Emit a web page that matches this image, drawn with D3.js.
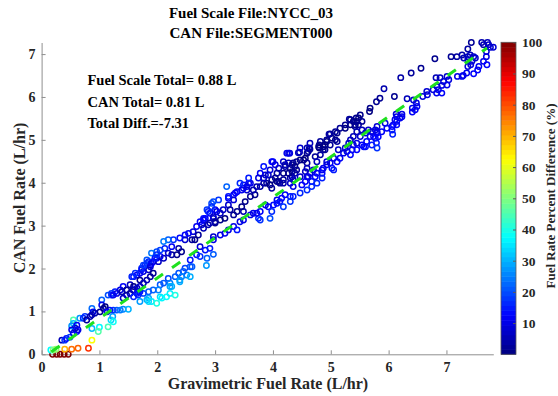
<!DOCTYPE html>
<html>
<head>
<meta charset="utf-8">
<script src="https://cdn.jsdelivr.net/npm/d3@7"></script>
<style>
  html, body { margin: 0; padding: 0; background: #fff; }
  svg { display: block; }
  text { font-family: "Liberation Serif", "Times New Roman", serif; font-weight: bold; }
</style>
</head>
<body>
<svg id="chart" width="558" height="396"></svg>
<script>
// Title lines
const titleLines = ["Fuel Scale File:NYCC_03", "CAN File:SEGMENT000"];
// Summary annotations
const summaryLines = ["Fuel Scale Total= 0.88 L", "CAN Total= 0.81 L", "Total Diff.=-7.31"];
const xLabel = "Gravimetric Fuel Rate (L/hr)";
const yLabel = "CAN Fuel Rate (L/hr)";
const colorLabel = "Fuel Rate Percent Difference (%)";

const xTicks = [0, 1, 2, 3, 4, 5, 6, 7];
const yTicks = [0, 1, 2, 3, 4, 5, 6, 7];
const colorTicks = [10, 20, 30, 40, 50, 60, 70, 80, 90, 100];
const xDomain = [0, 7.81];
const yDomain = [0, 7.27];
const colorDomain = [0, 100];

// Fitted trend line end points [gravimetric, CAN]
const fitLine = [[0.17, 0.06], [7.70, 7.14]];

// Paired samples: [gravimetric L/hr, CAN L/hr]
const readings = [
  [7.43,7.27],[7.61,7.27],[7.71,7.27],[7.64,7.22],[7.73,7.22],[7.81,7.16],[7.76,7.16],[7.37,7.12],[7.69,7.06],[7.69,6.94],[7.64,6.83],[7.70,6.75],
  [7.08,6.94],[7.18,6.94],[7.27,6.98],[7.30,6.91],[7.37,6.94],[7.41,6.98],[7.47,6.94],[7.50,6.91],[7.37,6.87],[7.44,6.83],[7.42,6.75],[7.37,6.71],
  [6.80,6.89],[6.56,6.67],[6.39,6.56],[6.21,6.45],[5.92,6.19],[5.85,5.97],[6.10,6.01],
  [7.54,6.63],[7.47,6.54],[7.19,6.48],[7.29,6.50],[6.82,6.45],[6.89,6.45],[7.01,6.48],[7.04,6.40],[6.95,6.36],[7.01,6.28],[6.92,6.27],[6.84,6.24],[6.77,6.17],[6.66,6.13],[6.67,6.05],[6.59,6.01],
  [6.32,5.96],[6.43,5.93],[6.48,5.86],[6.49,5.78],[6.46,5.70],[6.41,5.65],[6.41,5.74],
  [6.13,5.60],[6.23,5.60],[6.20,5.51],[6.11,5.47],[6.14,5.35],[6.08,5.35],[6.06,5.23],[5.94,5.39],[5.97,5.27],[5.88,5.19],[6.07,5.13],
  [6.86,6.17],[6.83,6.09],[6.92,6.09],[7.35,6.56],[7.56,6.71],[7.27,6.48],
  [6.23,5.54],[6.14,5.54],[6.14,5.43],[6.06,5.31],[5.80,5.19],[5.80,5.31],[5.74,5.08],[5.57,4.84],
  [5.79,5.89],[5.68,5.74],[5.67,5.66],[5.51,5.58],[5.48,5.51],[5.45,5.43],[5.54,5.43],[5.32,5.48],[5.39,5.43],[5.34,5.35],[5.42,5.35],[5.48,5.35],[5.25,5.35],[5.16,5.27],[5.25,5.27],[5.11,5.16],[4.99,5.14],[5.02,5.04],[4.93,4.96],[5.11,4.96],[4.82,4.96],[4.87,4.84],[4.79,4.84],[4.90,4.77],[4.64,4.78],[4.59,4.69],[4.44,4.70],[4.56,4.57],[4.47,4.53],[4.41,4.49],[4.35,4.46],[4.38,4.38],[4.30,4.34],[4.33,4.26],[4.38,4.22],[4.30,4.11],[4.47,4.14],
  [5.65,5.23],[5.60,5.16],[5.71,5.19],[5.77,5.23],[5.80,5.16],[5.68,5.08],[5.77,5.04],[5.62,4.96],[5.71,4.88],[5.60,4.84],[5.54,4.88],[5.45,4.92],[5.39,4.88],[5.31,4.92],[5.37,4.77],[5.45,4.77],[5.28,4.73],[5.22,4.69],[5.34,4.65],[5.16,4.57],[5.05,4.57],[5.11,4.49],[4.99,4.46],[4.93,4.42],[5.02,4.34],[4.87,4.34],[4.85,4.22],[4.70,4.30],[4.76,4.22],[4.73,4.14],[4.64,4.22],[4.59,4.14],[4.67,4.03],[4.56,4.03],[4.50,3.95],[5.82,5.07],[5.79,4.93],[5.80,4.81],
  [5.42,5.31],[5.45,5.19],[5.54,5.23],[5.51,5.08],[5.39,5.08],[5.34,5.00],[5.25,4.81],
  [4.93,5.00],[4.99,4.88],[5.08,5.00],[5.13,4.77],[4.87,4.77],[4.82,4.65],[4.73,4.61],[4.76,4.49],[4.93,4.49],[4.85,4.30],[5.05,4.30],
  [5.34,5.47],[5.44,5.51],[4.97,5.13],[5.08,5.19],[4.80,4.88],[4.90,4.88],[4.80,4.81],[4.63,4.81],[4.61,4.73],[4.46,4.71],[4.29,4.69],[4.00,4.49],[4.59,4.81],[4.64,4.92],[4.47,4.81],
  [4.27,4.69],[4.27,4.46],[4.21,4.42],[4.33,4.42],[4.53,4.53],[4.59,4.46],[4.59,4.34],[4.41,4.30],[4.18,4.22],[4.10,4.34],[4.07,4.22],[4.04,4.11],[3.98,4.07],[3.98,4.49],[3.92,4.18],[3.87,4.18],[3.78,4.22],[3.75,4.11],[3.58,3.99],[3.49,3.95],[3.55,3.83],[3.46,3.83],[3.38,3.79],[3.32,3.72],[3.23,3.64],[3.32,3.60],[3.06,3.60],[2.97,3.56],[2.86,3.37],[3.23,3.48],[3.26,3.37],[3.14,3.37],[3.09,3.29],[3.00,3.37],[2.91,3.29],[2.83,3.17],[2.80,3.13],[2.77,3.02],[2.88,3.02],[2.97,3.17],[3.00,3.06],[3.09,3.13],[3.17,3.17],[3.32,3.25],[3.38,3.33],[3.49,3.33],[3.46,3.44],[3.52,3.56],[3.61,3.68],[3.69,3.72],[3.66,3.83],[3.78,3.91],[3.84,3.99],[3.89,3.99],[3.95,3.95],[3.98,3.87],[4.07,4.03],[4.12,3.99],[4.18,4.07],
  [4.21,3.72],[4.30,3.68],[4.15,3.64],[4.07,3.60],[4.12,3.56],[4.01,3.48],[3.92,3.44],[3.98,3.33],[3.78,3.33],[3.75,3.17],[3.66,3.29],[3.61,3.25],[3.49,3.13],[3.43,3.09],[3.32,2.98],[3.38,2.90],[3.23,2.90],[3.17,2.82],[3.09,2.78],[2.97,2.74],[2.97,2.67],[4.33,4.14],[4.35,4.07],[4.56,4.26],[4.61,4.14],
  [3.84,4.11],[3.61,3.99],[3.72,3.91],[4.10,4.03],[4.18,3.99],[4.30,3.99],[4.35,3.91],
  [4.30,3.56],[3.95,3.17],[3.78,3.13],[3.72,3.29],[3.87,3.48],[4.07,3.52],[4.18,3.44],[4.35,3.68],[4.47,3.76],[4.59,3.83],[4.67,3.91],[4.76,3.99],[4.85,4.11],
  [2.80,3.17],[2.94,3.52],[3.20,3.91],[3.23,3.68],[3.35,3.76],[3.49,3.87],[3.43,3.99],[3.55,3.91],[3.58,4.11],[3.84,4.38],[3.95,4.30],[4.04,4.42],[4.18,4.49],[4.24,4.69],[4.21,4.38],[4.27,4.22],
  [2.94,3.44],[2.88,3.33],[3.03,3.33],[2.97,3.21],[3.00,3.09],[2.91,3.06],[2.74,3.09],[2.68,2.98],[2.80,2.94],[2.62,2.86],[2.71,2.78],[2.65,2.67],[2.60,2.67],[2.54,2.82],[2.48,2.78],[2.48,2.67],[2.39,2.71],[2.28,2.67],[2.19,2.67],[2.11,2.63],[2.13,2.47],[2.25,2.51],[2.37,2.47],[2.42,2.39],[2.34,2.32],[2.25,2.32],[2.19,2.36],[2.11,2.24],[2.05,2.28],[1.99,2.24],[1.93,2.16],[2.02,2.16],[1.88,2.08],[1.85,1.97],[1.76,1.93],[1.70,1.89],[1.65,1.85],[1.59,1.81],[1.73,2.01],[1.79,2.08],[1.82,2.20],[1.99,2.39],[2.05,2.43],[1.90,2.36],
  [2.74,2.51],[2.83,2.43],[2.91,2.47],[2.86,2.24],[2.68,2.32],[2.57,2.20],[2.60,2.04],[2.48,2.01],[2.37,1.89],[2.31,1.81],[2.19,1.77],[2.22,1.66],[2.11,1.66],[2.05,1.62],[2.02,1.50],[1.93,1.50],[1.85,1.46],[1.76,1.42],[1.67,1.46],[1.59,1.50],[1.53,1.42],[1.47,1.38],[1.27,1.46],[1.21,1.38],[1.41,1.31],[1.85,1.31],[2.05,1.34],[2.25,1.58],[2.39,1.73],[2.51,1.85],
  [1.70,1.73],[1.76,1.66],[1.82,1.73],[1.88,1.81],[1.93,1.89],[1.53,1.62],[1.41,1.58],[1.36,1.50],[1.47,1.50],[1.59,1.58],
  [0.19,0.00],[0.26,0.00],[0.32,0.00],[0.39,0.00],[0.46,0.00],
  [0.16,0.10],[0.20,0.10],[0.25,0.12],
  [0.40,0.12],[0.52,0.12],[0.63,0.14],[0.81,0.14],
  [0.87,0.33],
  [0.35,0.33],[0.40,0.33],[0.43,0.37],[0.49,0.40],[0.55,0.49],[0.61,0.53],[0.63,0.57],
  [0.55,0.80],[0.55,0.72],[0.58,0.61],[0.66,0.84],[0.75,0.88],[0.72,0.84],[0.78,0.80],
  [0.87,0.60],[1.00,0.63],
  [0.87,1.07],[0.89,0.99],[0.87,0.92],[0.92,0.96],[1.04,1.27],[1.04,1.15],[1.07,1.07],
  [1.20,0.80],[1.23,0.88],
  [1.18,1.03],[1.24,1.03],[1.30,1.03],[1.36,1.03],[1.41,1.05],[1.50,1.05],
  [1.15,1.38],[1.21,1.42],[1.30,1.42],[1.39,1.46],[1.56,1.81],[1.62,1.89],[1.82,2.12],
  [1.67,1.38],[1.59,1.34],[1.70,1.23],[1.82,1.27],[1.85,1.23],
  [1.15,0.64],[0.98,0.53],[1.24,0.76],
  [2.85,2.07],[2.97,2.33],[2.57,1.81],[2.39,1.69],[2.22,1.58],[2.74,2.28],[2.57,2.04],[2.45,1.93],[2.42,1.81],
  [0.52,0.66],[0.52,0.57],[0.61,0.68],[0.84,0.88],[1.01,0.99],[1.10,1.11],[1.13,0.99],[1.24,1.38],
  [1.58,1.50],[1.65,1.54],[1.65,1.42],[1.70,1.58],[1.70,1.46],
  [1.73,1.97],[1.76,2.08],[1.85,2.16],[1.88,2.04],[1.90,2.12],[1.96,2.24],[1.99,2.32],
  [1.90,1.23],[1.99,1.19],[2.08,1.31],[2.16,1.34],[2.22,1.42],[2.31,1.38]
];

// MATLAB-style jet colour map on [0,1]
function jet(t) {
  t = Math.max(0, Math.min(1, t));
  const c = v => Math.round(255 * Math.max(0, Math.min(1, v)));
  return d3.rgb(c(1.5 - Math.abs(4 * t - 3)), c(1.5 - Math.abs(4 * t - 2)), c(1.5 - Math.abs(4 * t - 1))).formatHex();
}

const svg = d3.select("#chart");
const plot = { left: 41.6, right: 493.3, top: 42.5, bottom: 354.3 };
const bar = { left: 501, right: 516, top: 42.3, bottom: 354.3 };
const ink = "#262626";
const axisGray = "#8f8f8f";
const serif = "Liberation Serif, Times New Roman, serif";

const x = d3.scaleLinear().domain(xDomain).range([plot.left, plot.right]);
const y = d3.scaleLinear().domain(yDomain).range([plot.bottom, plot.top]);
const cScale = d3.scaleSequential(jet).domain(colorDomain);
const cY = d3.scaleLinear().domain(colorDomain).range([bar.bottom, bar.top]);

// percent difference of CAN relative to gravimetric
const pctDiff = d => Math.min(100, Math.abs(d[1] - d[0]) / d[0] * 100);

// axes (box off, inward ticks)
function styleAxis(g) {
  g.selectAll(".domain").attr("stroke", axisGray).attr("stroke-width", 1);
  g.selectAll(".tick line").attr("stroke", axisGray).attr("stroke-width", 1);
  g.selectAll(".tick text").attr("fill", ink).attr("font-size", 14)
    .attr("font-family", serif).attr("font-weight", "bold");
}
svg.append("g").attr("transform", `translate(0,${plot.bottom})`)
  .call(d3.axisBottom(x).tickValues(xTicks).tickFormat(d3.format("d")).tickSizeInner(-4).tickSizeOuter(0).tickPadding(8))
  .call(styleAxis);
svg.append("g").attr("transform", `translate(${plot.left},0)`)
  .call(d3.axisLeft(y).tickValues(yTicks).tickFormat(d3.format("d")).tickSizeInner(-4).tickSizeOuter(0).tickPadding(6))
  .call(styleAxis);

// scatter points
svg.append("g").selectAll("circle").data(readings).join("circle")
  .attr("cx", d => x(d[0]))
  .attr("cy", d => y(d[1]))
  .attr("r", 2.7)
  .attr("fill", "none")
  .attr("stroke", d => cScale(pctDiff(d)))
  .attr("stroke-width", 1.5);

// fitted trend line
svg.append("path")
  .datum(fitLine)
  .attr("d", d3.line().x(d => x(d[0])).y(d => y(d[1])))
  .attr("stroke", "#1fe01f")
  .attr("stroke-width", 3)
  .attr("stroke-dasharray", "10,11")
  .attr("fill", "none");

// colour bar
const steps = d3.range(64);
svg.append("g").selectAll("rect").data(steps).join("rect")
  .attr("x", bar.left)
  .attr("width", bar.right - bar.left)
  .attr("y", i => cY((i + 1) * 100 / 64))
  .attr("height", i => cY(i * 100 / 64) - cY((i + 1) * 100 / 64) + 0.5)
  .attr("fill", i => cScale((i + 0.5) * 100 / 64));
svg.append("rect")
  .attr("x", bar.left).attr("y", bar.top)
  .attr("width", bar.right - bar.left).attr("height", bar.bottom - bar.top)
  .attr("fill", "none").attr("stroke", "#5a5a5a").attr("stroke-width", 0.8);
svg.append("g").attr("transform", `translate(${bar.right},0)`)
  .call(d3.axisRight(cY).tickValues(colorTicks).tickSizeInner(-3).tickSizeOuter(0).tickPadding(6))
  .call(g => {
    g.select(".domain").remove();
    g.selectAll(".tick line").attr("stroke", "#5a5a5a");
    g.selectAll(".tick text").attr("fill", ink).attr("font-size", 13.5)
      .attr("font-family", serif).attr("font-weight", "bold");
  });

// titles and labels
svg.append("g").selectAll("text").data(titleLines).join("text")
  .attr("x", 251).attr("y", (d, i) => 18 + i * 19.5)
  .attr("text-anchor", "middle").attr("font-size", 15).attr("fill", "#000")
  .text(d => d);

svg.append("g").selectAll("text").data(summaryLines).join("text")
  .attr("x", 87.5).attr("y", (d, i) => 85 + i * 21.7)
  .attr("font-size", 14.5).attr("fill", "#000")
  .text(d => d);

svg.append("text").attr("x", 268).attr("y", 389)
  .attr("text-anchor", "middle").attr("font-size", 16).attr("fill", ink).text(xLabel);
svg.append("text").attr("transform", "translate(25,198) rotate(-90)")
  .attr("text-anchor", "middle").attr("font-size", 16).attr("fill", ink).text(yLabel);
svg.append("text").attr("transform", "translate(555,196) rotate(-90)")
  .attr("text-anchor", "middle").attr("font-size", 13).attr("fill", ink).text(colorLabel);
</script>
</body>
</html>
